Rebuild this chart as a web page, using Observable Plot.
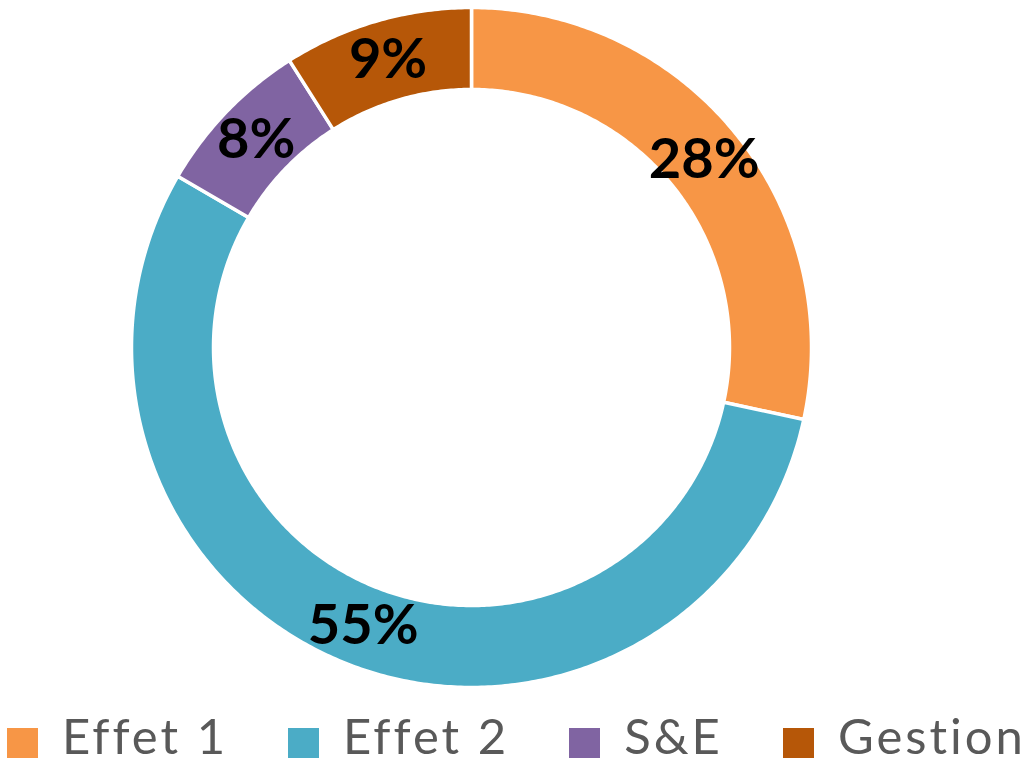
<!DOCTYPE html>
<html><head><meta charset="utf-8">
<script src="https://cdn.jsdelivr.net/npm/d3@7"></script>
<script src="https://cdn.jsdelivr.net/npm/@observablehq/plot@0.6"></script>
<style>
html,body{margin:0;padding:0;background:#fff;width:1033px;height:765px;overflow:hidden;}
#chart{position:absolute;left:0;top:0;}
#legend{position:absolute;left:0;top:706px;width:1033px;display:flex;justify-content:center;align-items:center;gap:60px;font-family:Lato,sans-serif;font-size:49px;letter-spacing:3px;color:#595959;}
.item{display:flex;align-items:center;white-space:nowrap;}
.sw{width:31px;height:30px;margin-right:24px;margin-top:15px;}
</style></head><body>
<div id="chart"></div><div id="legend"></div>
<script>
const categories = ["Effet 1", "Effet 2", "S&E", "Gestion"];
const values = [28.4, 55.0, 7.6, 9.0];
const colors = ["#F79646", "#4BACC6", "#8064A2", "#B65708"];
const innerRatio = 258 / 340;

const pie = d3.pie().sort(null).value(d => d.value)(categories.map((c, i) => ({cat: c, value: values[i]})));
const total = d3.sum(values);

// ring outline for each slice (geometry of the arcs)
const ring = [];
for (const p of pie) {
  const span = p.endAngle - p.startAngle;
  const steps = Math.max(8, Math.ceil(span / 0.01));
  for (let k = 0; k <= steps; k++) {
    const a = p.startAngle + span * k / steps;
    ring.push({cat: p.data.cat, x: Math.sin(a), y: Math.cos(a)});
  }
  for (let k = steps; k >= 0; k--) {
    const a = p.startAngle + span * k / steps;
    ring.push({cat: p.data.cat, x: innerRatio * Math.sin(a), y: innerRatio * Math.cos(a)});
  }
}
const labels = pie.map(p => {
  const a = (p.startAngle + p.endAngle) / 2, r = (1 + innerRatio) / 2;
  return {x: r * Math.sin(a), y: r * Math.cos(a), text: Math.round(p.data.value / total * 100) + "%"};
});

const chart = Plot.plot({
  width: 1033, height: 706, margin: 0,
  x: {domain: [-1, 1], range: [131, 811], axis: null},
  y: {domain: [-1, 1], range: [687, 7], axis: null},
  color: {domain: categories, range: colors},
  style: {background: "white"},
  marks: [
    Plot.line(ring, {x: "x", y: "y", z: "cat", fill: "cat", stroke: "white", strokeWidth: 3.5, curve: "linear-closed"}),
    Plot.text(labels, {x: "x", y: "y", text: "text", fontSize: 56, fontWeight: "bold", fill: "black", fontFamily: "Lato"})
  ]
});
document.getElementById("chart").appendChild(chart);

const legend = document.getElementById("legend");
categories.forEach((c, i) => {
  const item = document.createElement("div");
  item.className = "item";
  const sw = document.createElement("div");
  sw.className = "sw";
  sw.style.background = colors[i];
  const t = document.createElement("span");
  t.textContent = c;
  item.appendChild(sw); item.appendChild(t);
  legend.appendChild(item);
});
</script>
</body></html>
